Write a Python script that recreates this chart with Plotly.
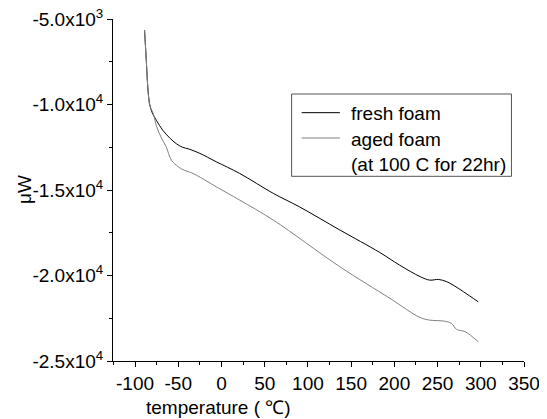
import plotly.graph_objects as go

# ---- data ----
fresh_x = [-89, -87, -85, -83, -80, -75, -68, -60, -52, -45, -38, -25, -6, 21, 60, 90,
           137, 183, 206, 230, 241, 251, 260, 268, 280, 297]
fresh_y = [-5650, -7400, -9150, -10000, -10500, -10950, -11500, -11950, -12300, -12500,
           -12600, -12860, -13350, -14030, -15200, -15980, -17340, -18650, -19390,
           -20070, -20270, -20230, -20350, -20560, -20950, -21540]

aged_x = [-89, -87, -85, -83, -79, -75, -70, -64, -58, -50, -45, -40, -33, -6, 21, 60,
          137, 195, 229.5, 241, 250, 258, 266, 272, 282, 297]
aged_y = [-5650, -7400, -9150, -10050, -10520, -11300, -11900, -12470, -13250, -13640,
          -13800, -13900, -14030, -14810, -15590, -16760, -19490, -21340, -22450,
          -22610, -22640, -22670, -22800, -23150, -23290, -23870]

y_tickvals = [-5000, -10000, -15000, -20000, -25000]
y_ticktext = ["-5.0x10<sup>3</sup>", "-1.0x10<sup>4</sup>", "-1.5x10<sup>4</sup>",
              "-2.0x10<sup>4</sup>", "-2.5x10<sup>4</sup>"]
x_tickvals = [-100, -50, 0, 50, 100, 150, 200, 250, 300, 350]
x_ticktext = ["-100", "-50", "0", "50", "100", "150", "200", "250", "300", "350"]

series_names = ["fresh foam", "aged foam"]
legend_note = "(at 100 C for 22hr)"
series_colors = ["#000000", "#808080"]

FONT = "Liberation Sans, Arial, sans-serif"

fig = go.Figure()
fig.add_trace(go.Scatter(x=fresh_x, y=fresh_y, mode="lines", name=series_names[0],
                         line=dict(color=series_colors[0], width=1), line_shape="spline",
                         showlegend=False))
fig.add_trace(go.Scatter(x=aged_x, y=aged_y, mode="lines", name=series_names[1],
                         line=dict(color=series_colors[1], width=1), line_shape="spline",
                         showlegend=False))

axis_common = dict(showline=True, linecolor="black", linewidth=1, ticks="outside",
                   ticklen=5, tickcolor="black", showgrid=False, zeroline=False,
                   automargin=False, ticklabeloverflow="allow",
                   tickfont=dict(family=FONT, size=19, color="black"))

fig.update_xaxes(range=[-125.5, 350], tickmode="array", tickvals=x_tickvals,
                 ticktext=x_ticktext,
                 minor=dict(ticks="outside", ticklen=3, dtick=25, tick0=0,
                            tickcolor="black", showgrid=False),
                 **axis_common)
fig.update_yaxes(range=[-25000, -5000], tickmode="array", tickvals=y_tickvals,
                 ticktext=y_ticktext,
                 minor=dict(ticks="outside", ticklen=3, dtick=2500, tick0=0,
                            tickcolor="black", showgrid=False),
                 **axis_common)

fig.add_annotation(text="temperature ( ℃)", xref="x", yref="paper", x=-4, y=0,
                   yshift=-46, showarrow=False, yanchor="middle", xanchor="center",
                   font=dict(family=FONT, size=19, color="black"))
fig.add_annotation(text="μW", xref="paper", yref="paper", x=0, y=0.5,
                   xshift=-89, textangle=-90, showarrow=False,
                   xanchor="center", yanchor="middle",
                   font=dict(family=FONT, size=19, color="black"))

# ---- legend box (drawn by hand to match the reference layout) ----
lg_x0, lg_x1, lg_y0, lg_y1 = 0.4345, 0.9695, 0.540, 0.7807
sample_x0, sample_x1, text_x = 0.459, 0.552, 0.5742
row_y = [0.7231, 0.649, 0.5745]
fig.add_shape(type="rect", xref="paper", yref="paper", x0=lg_x0, x1=lg_x1,
              y0=lg_y0, y1=lg_y1, line=dict(color="#555555", width=1),
              fillcolor="white")
for i, name in enumerate(series_names):
    fig.add_shape(type="line", xref="paper", yref="paper", x0=sample_x0, x1=sample_x1,
                  y0=row_y[i] + 0.003, y1=row_y[i] + 0.003,
                  line=dict(color=series_colors[i], width=1))
    fig.add_annotation(text=name, xref="paper", yref="paper", x=text_x, y=row_y[i],
                       xanchor="left", yanchor="middle", showarrow=False,
                       font=dict(family=FONT, size=19, color="black"))
fig.add_annotation(text=legend_note, xref="paper", yref="paper", x=text_x, y=row_y[2],
                   xanchor="left", yanchor="middle", showarrow=False,
                   font=dict(family=FONT, size=19, color="black"))

# page body has an 8px default margin, so the figure is offset by 8px
fig.update_layout(
    width=539, height=411,
    margin=dict(l=105, r=23, t=11, b=58, autoexpand=False),
    paper_bgcolor="white", plot_bgcolor="white",
    showlegend=False,
)

fig.write_html("out.html")
